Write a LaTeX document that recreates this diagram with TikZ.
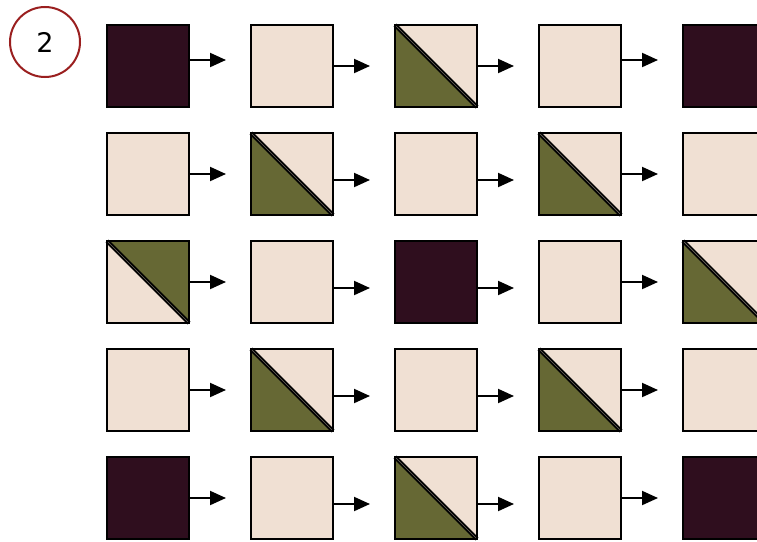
\documentclass[tikz,border=0pt]{standalone}
\usepackage{fontspec}
\setmainfont{DejaVu Sans}
\usetikzlibrary{arrows.meta}
\definecolor{darkc}{HTML}{2F0E1E}
\definecolor{beigec}{HTML}{F0E0D3}
\definecolor{greenc}{HTML}{666834}
\definecolor{redc}{HTML}{9A1F1F}
\tikzset{
  sq/.style={draw=black, line width=2pt, minimum size=82pt, inner sep=0pt, outer sep=0pt, anchor=north west},
  darksq/.style={sq, fill=darkc},
  beigesq/.style={sq, fill=beigec},
  arr/.style={line width=2pt, -{Triangle[length=16pt,width=14pt]}},
  diagline/.style={line width=4pt, black},
  diaginner/.style={line width=0.7pt, color=black!55!beigec}
}
\newcommand{\gbl}[2]{% green lower-left
  \node[beigesq] (#1) at #2 {};
  \fill[greenc] (#1.north west) -- (#1.south east) -- (#1.south west) -- cycle;
  \draw[diagline] (#1.north west) -- (#1.south east);
  \draw[diaginner] (#1.north west) -- (#1.south east);
  \draw[line width=2pt] (#1.north west) rectangle (#1.south east);
}
\newcommand{\gtr}[2]{% green upper-right
  \node[beigesq] (#1) at #2 {};
  \fill[greenc] (#1.north west) -- (#1.north east) -- (#1.south east) -- cycle;
  \draw[diagline] (#1.north west) -- (#1.south east);
  \draw[diaginner] (#1.north west) -- (#1.south east);
  \draw[line width=2pt] (#1.north west) rectangle (#1.south east);
}
\begin{document}
\begin{tikzpicture}[x=1pt,y=-1pt]
\useasboundingbox (0,0) rectangle (757,541);
\clip (0,0) rectangle (757,541);
\node[draw=redc, line width=2pt, circle, minimum size=70pt, inner sep=0pt] (num) at (45,42) {\fontsize{27}{30}\selectfont 2};
% row 1
\node[darksq] (a1) at (107,25) {};
\node[beigesq] (a2) at (251,25) {};
\gbl{a3}{(395,25)}
\node[beigesq] (a4) at (539,25) {};
\node[darksq] (a5) at (683,25) {};
% row 2
\node[beigesq] (b1) at (107,133) {};
\gbl{b2}{(251,133)}
\node[beigesq] (b3) at (395,133) {};
\gbl{b4}{(539,133)}
\node[beigesq] (b5) at (683,133) {};
% row 3
\gtr{c1}{(107,241)}
\node[beigesq] (c2) at (251,241) {};
\node[darksq] (c3) at (395,241) {};
\node[beigesq] (c4) at (539,241) {};
\gbl{c5}{(683,241)}
% row 4
\node[beigesq] (d1) at (107,349) {};
\gbl{d2}{(251,349)}
\node[beigesq] (d3) at (395,349) {};
\gbl{d4}{(539,349)}
\node[beigesq] (d5) at (683,349) {};
% row 5
\node[darksq] (e1) at (107,457) {};
\node[beigesq] (e2) at (251,457) {};
\gbl{e3}{(395,457)}
\node[beigesq] (e4) at (539,457) {};
\node[darksq] (e5) at (683,457) {};
% arrows
\foreach \r/\o in {a/35,b/41,c/41,d/41,e/41}{
  \pgfmathsetmacro{\oo}{\o+6}
  \coordinate (\r t1) at ([yshift=-\o pt]\r1.north east);
  \coordinate (\r t2) at ([yshift=-\oo pt]\r2.north east);
  \coordinate (\r t3) at ([yshift=-\oo pt]\r3.north east);
  \coordinate (\r t4) at ([yshift=-\o pt]\r4.north east);
  \foreach \c in {1,2,3,4}{
    \draw[arr] (\r t\c) -- ++(37,0);
  }
}
\end{tikzpicture}
\end{document}
